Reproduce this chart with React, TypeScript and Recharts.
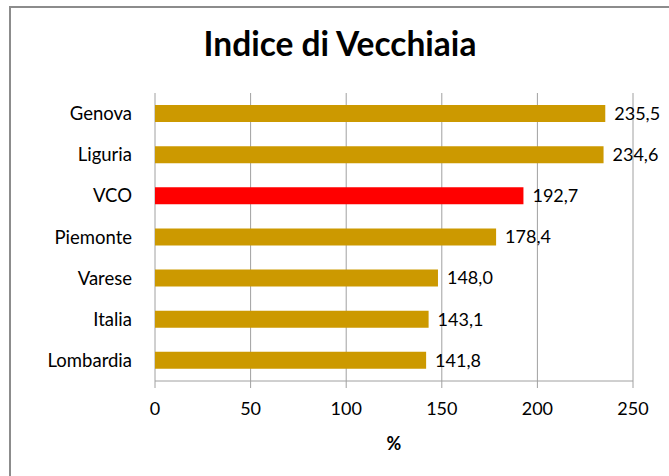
import { BarChart, Bar, XAxis, YAxis, CartesianGrid, Cell, LabelList, Label } from 'recharts'

// values
const categories = ['Genova', 'Liguria', 'VCO', 'Piemonte', 'Varese', 'Italia', 'Lombardia']
const values = [235.5, 234.6, 192.7, 178.4, 148.0, 143.1, 141.8]
const highlighted = 'VCO'
const xTicks = [0, 50, 100, 150, 200, 250]
const bandTicks = [0, 1, 2, 3, 4, 5, 6, 7]

const GOLD = '#CC9900'
const RED = '#FF0000'
const LINE = '#A0A0A0'

const data = categories.map((name, i) => ({ name, value: values[i] }))

const fmt = (v: any) => Number(v).toFixed(1).replace('.', ',')

export default function App() {
  return (
    <div style={{
      position: 'absolute', left: 0, top: 0, width: 669, height: 476,
      overflow: 'hidden', background: '#fff', fontFamily: 'Lato, sans-serif',
    }}>
      <div style={{
        position: 'absolute', left: 9, top: 6, width: 720, height: 520,
        border: '2px solid #8C8C8C',
      }} />
      <div style={{
        position: 'absolute', left: 0, width: 680, top: 27, textAlign: 'center',
        fontSize: 33.5, fontWeight: 700, lineHeight: 1, color: '#000',
      }}>
        Indice di Vecchiaia
      </div>
      <div style={{ position: 'absolute', left: 0, top: 0 }}>
        <BarChart
          width={669}
          height={476}
          layout="vertical"
          data={data}
          margin={{ top: 93, right: 36, bottom: 20, left: 95 }}
        >
          <CartesianGrid horizontal={false} stroke={LINE} yAxisId="cat" />
          {/* boundary ticks between categories, Excel style */}
          <YAxis
            yAxisId="band"
            type="number"
            domain={[0, 7]}
            ticks={bandTicks}
            width={0}
            tick={false}
            tickSize={8}
            tickLine={{ stroke: LINE }}
            axisLine={{ stroke: LINE }}
          />
          <YAxis
            yAxisId="cat"
            type="category"
            dataKey="name"
            width={60}
            axisLine={false}
            tickLine={false}
            tickSize={8}
            tickMargin={15}
            tick={{ fill: '#000', fontSize: 18.5 }}
          />
          <XAxis
            type="number"
            domain={[0, 250]}
            ticks={xTicks}
            height={75}
            tickSize={7}
            tickMargin={14}
            tickLine={{ stroke: LINE }}
            axisLine={{ stroke: LINE }}
            tick={{ fill: '#000', fontSize: 18 }}
          >
            <Label value="%" position="insideBottom" offset={6} fill="#000" fontSize={18} fontWeight={700} />
          </XAxis>
          <Bar dataKey="value" yAxisId="cat" barSize={17} isAnimationActive={false}>
            {data.map(d => (
              <Cell key={d.name} fill={d.name === highlighted ? RED : GOLD} />
            ))}
            <LabelList dataKey="value" position="right" offset={9} fill="#000" fontSize={18} formatter={fmt} />
          </Bar>
        </BarChart>
      </div>
    </div>
  )
}
